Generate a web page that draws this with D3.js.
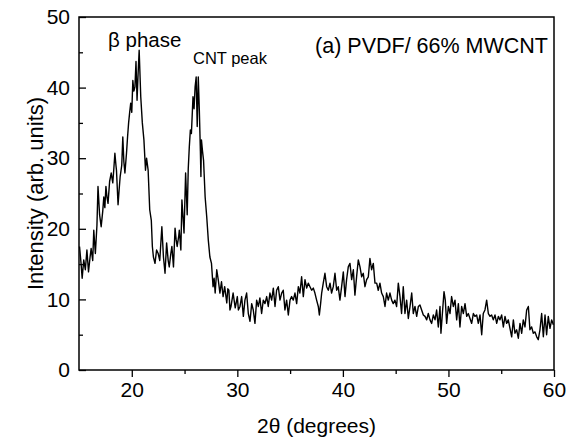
<!DOCTYPE html>
<html>
<head>
<meta charset="utf-8">
<script src="https://cdn.jsdelivr.net/npm/d3@7"></script>
<style>
  body { margin: 0; background: #fff; }
  svg { display: block; }
  text { font-family: "Liberation Sans", Arial, sans-serif; fill: #000; }
</style>
</head>
<body>
<div class="chart"></div>
<script>
// XRD pattern (2theta in degrees, intensity in arb. units)
var twoTheta = [15.05, 15.2, 15.3, 15.45, 15.6, 15.75, 15.9, 16.05, 16.15, 16.3, 16.4, 16.55, 16.7, 16.8, 16.95, 17.1,
  17.25, 17.35, 17.45, 17.55, 17.65, 17.75, 17.9, 18.05, 18.2, 18.3, 18.4, 18.5, 18.55, 18.7, 18.8, 18.9, 19.05, 19.15,
  19.25, 19.35, 19.5, 19.6, 19.7, 19.8, 19.9, 20.0, 20.1, 20.2, 20.3, 20.4, 20.5, 20.6, 20.7, 20.85, 21.0, 21.15, 21.3,
  21.4, 21.55, 21.7, 21.85, 21.95, 22.05, 22.2, 22.35, 22.5, 22.65, 22.85, 23.0, 23.15, 23.3, 23.45, 23.55, 23.7, 23.8,
  23.95, 24.1, 24.2, 24.3, 24.45, 24.5, 24.65, 24.75, 24.95, 25.1, 25.25, 25.35, 25.45, 25.55, 25.65, 25.8, 25.9, 26.0,
  26.1, 26.2, 26.3, 26.4, 26.5, 26.55, 26.6, 26.7, 26.8, 26.95, 27.1, 27.25, 27.4, 27.55, 27.7, 27.8, 27.9, 28.05, 28.2,
  28.35, 28.5, 28.65, 28.8, 29.0, 29.1, 29.2, 29.3, 29.4, 29.6, 29.8, 30.0, 30.1,
  30.25, 30.41, 30.57, 30.72, 30.88, 31.04, 31.2, 31.36, 31.51, 31.67, 31.83, 31.99, 32.14, 32.3, 32.46, 32.62, 32.78,
  32.93, 33.09, 33.25, 33.41, 33.57, 33.72, 33.88, 34.04, 34.2, 34.35, 34.51, 34.67, 34.83, 34.99, 35.14, 35.3, 35.46,
  35.62, 35.78, 35.93, 36.09, 36.25, 36.41, 36.57, 36.72, 36.88, 37.04, 37.2, 37.35, 37.51, 37.67, 37.77, 37.89, 37.99,
  38.14, 38.3, 38.46, 38.62, 38.78, 38.93, 39.09, 39.25, 39.41, 39.56, 39.72, 39.88, 40.04, 40.2, 40.35, 40.51, 40.67,
  40.83, 40.99, 41.14, 41.3, 41.46, 41.62, 41.78, 41.93, 42.09, 42.25, 42.41, 42.56, 42.72, 42.88, 43.04, 43.2, 43.35,
  43.51, 43.67, 43.83, 43.99, 44.14, 44.3, 44.46, 44.62, 44.77, 44.93, 45.09, 45.25, 45.41, 45.56, 45.72, 45.88, 46.04,
  46.2, 46.36, 46.52, 46.67, 46.83, 46.99, 47.15, 47.3, 47.46, 47.62, 47.78, 47.94, 48.09, 48.25, 48.41, 48.57, 48.73,
  48.88, 49.04, 49.2, 49.29, 49.45, 49.58, 49.7, 49.83, 49.99, 50.15, 50.3, 50.46, 50.62, 50.78, 50.94, 51.09, 51.25,
  51.41, 51.57, 51.73, 51.88, 52.04, 52.2, 52.36, 52.51, 52.67, 52.83, 52.99, 53.15, 53.3, 53.46, 53.62, 53.78, 53.94,
  54.09, 54.25, 54.41, 54.57, 54.73, 54.88, 55.04, 55.2, 55.36, 55.51, 55.67, 55.83, 55.99, 56.15, 56.3, 56.46, 56.62,
  56.78, 56.94, 57.09, 57.25, 57.41, 57.57, 57.72, 57.88, 58.04, 58.2, 58.36, 58.51, 58.67, 58.83, 58.99, 59.15, 59.3,
  59.46, 59.62, 59.78, 59.94];
var intensity = [17.5, 15.0, 13.0, 15.6, 14.2, 17.0, 13.9, 16.0, 17.2, 15.5, 19.8, 16.5, 20.5, 26.0, 22.0, 20.3,
  22.5, 24.5, 23.0, 26.0, 24.5, 23.6, 26.7, 27.9, 26.5, 28.5, 30.7, 29.0, 28.3, 23.4, 25.5, 27.4, 29.0, 33.0,
  29.5, 27.9, 30.7, 33.0, 35.0, 36.5, 37.8, 36.5, 41.0, 39.5, 40.1, 43.7, 38.2, 42.0, 45.3, 38.7, 35.0, 32.6, 28.3,
  30.0, 28.3, 22.7, 21.2, 17.5, 16.0, 15.1, 17.0, 16.5, 15.5, 20.3, 16.0, 13.7, 18.0, 15.5, 14.6, 16.5, 17.5,
  14.6, 20.1, 18.5, 17.5, 19.0, 19.8, 17.0, 24.1, 19.4, 27.9, 22.0, 28.5, 31.6, 34.0, 33.5, 38.7, 37.0, 40.1,
  41.5, 34.5, 41.5, 36.8, 31.0, 27.4, 32.6, 31.0, 29.7, 24.5, 21.7, 18.4, 16.0, 15.1, 11.8, 13.0, 10.9, 14.2, 12.7,
  10.9, 12.5, 10.4, 11.8, 9.5, 11.5, 11.3, 8.5, 9.0, 10.9, 8.8, 10.4, 8.5,
  9.0, 10.4, 7.6, 9.9, 10.9, 8.0, 6.9, 9.4, 8.5, 6.6, 9.9, 9.0, 10.2, 8.0, 9.9, 9.4, 10.4,
  9.0, 10.9, 9.9, 11.6, 9.0, 11.3, 11.8, 9.9, 10.9, 11.3, 8.5, 9.9, 7.8, 9.9, 10.4, 9.9, 10.9,
  9.4, 11.8, 10.9, 13.2, 10.4, 12.8, 11.6, 12.3, 11.8, 11.3, 11.6, 10.9, 9.9, 9.0, 7.8, 9.4, 10.9,
  12.3, 13.7, 11.8, 11.3, 12.3, 10.9, 11.8, 13.7, 11.3, 11.8, 9.9, 11.8, 13.9, 10.4, 12.8, 14.6, 15.1,
  12.8, 14.2, 10.6, 13.2, 15.6, 14.6, 13.2, 13.7, 11.8, 12.8, 13.2, 15.8, 14.2, 15.1, 12.3, 12.3, 11.3,
  12.3, 10.9, 10.4, 9.0, 10.9, 9.9, 10.9, 9.9, 9.4, 9.9, 9.0, 12.3, 10.4, 8.0, 11.8, 8.0, 9.9,
  7.3, 9.0, 10.9, 8.0, 9.0, 7.6, 9.0, 9.2, 8.5, 7.8, 7.6, 7.1, 8.0, 7.1, 6.6, 7.8, 7.1,
  8.5, 6.1, 9.0, 5.2, 8.5, 11.1, 9.9, 6.6, 9.0, 8.0, 10.4, 9.0, 9.9, 7.1, 9.4, 6.1, 9.0,
  8.0, 9.4, 7.6, 8.0, 7.3, 6.6, 8.0, 7.6, 7.8, 6.6, 7.8, 5.0, 8.0, 8.5, 9.9, 8.0, 7.6,
  7.8, 7.1, 7.8, 6.6, 7.6, 7.1, 7.8, 6.1, 7.6, 6.6, 7.1, 5.9, 4.7, 7.1, 5.2, 5.7, 4.5,
  6.6, 5.2, 7.1, 6.1, 8.5, 9.0, 5.7, 6.1, 5.2, 5.4, 4.7, 4.3, 5.7, 8.0, 4.7, 7.8, 5.0,
  7.6, 5.9, 7.1, 6.4];

var xMajor = [20, 30, 40, 50, 60];
var xMinor = [25, 35, 45, 55];
var yMajor = [0, 10, 20, 30, 40, 50];
var yMinor = [5, 15, 25, 35, 45];

var width = 568;
var height = 445;
var margin = {top: 17, right: 14, bottom: 75, left: 79};

var svg = d3.select(".chart").append("svg")
    .attr("width", width)
    .attr("height", height)

var x = d3.scaleLinear().domain([15, 60]).range([margin.left, width - margin.right]);
var y = d3.scaleLinear().domain([0, 50]).range([height - margin.bottom, margin.top]);

var data = twoTheta.map(function(d, i) { return [d, intensity[i]]; });

// the trace
svg.append("path")
    .datum(data)
    .attr("fill", "none")
    .attr("stroke", "#000")
    .attr("stroke-width", 1.4)
    .attr("stroke-linejoin", "round")
    .attr("d", d3.line().x(function(d) { return x(d[0]); }).y(function(d) { return y(d[1]); }));

// frame
svg.append("rect")
    .attr("x", x(15))
    .attr("y", y(50))
    .attr("width", x(60) - x(15))
    .attr("height", y(0) - y(50))
    .attr("fill", "none")
    .attr("stroke", "#000")
    .attr("stroke-width", 1.5);

// x axis, ticks pointing out
var gx = svg.append("g").attr("transform", "translate(0," + y(0) + ")");
gx.call(d3.axisBottom(x).tickValues(xMajor).tickSize(7).tickPadding(5).tickFormat(d3.format("d")));
svg.append("g").attr("transform", "translate(0," + y(0) + ")")
    .call(d3.axisBottom(x).tickValues(xMinor).tickSize(4).tickFormat(""));

// y axis, ticks pointing in
var gy = svg.append("g").attr("transform", "translate(" + x(15) + ",0)");
gy.call(d3.axisLeft(y).tickValues(yMajor).tickSize(-7).tickPadding(9).tickFormat(d3.format("d")));
svg.append("g").attr("transform", "translate(" + x(15) + ",0)")
    .call(d3.axisLeft(y).tickValues(yMinor).tickSize(-4).tickFormat(""));

svg.selectAll(".domain").remove();
svg.selectAll(".tick line").attr("stroke", "#000").attr("stroke-width", 1.3);
svg.selectAll(".tick text").style("font-size", "21px").style("font-family", "Liberation Sans, Arial, sans-serif");

// titles
svg.append("text")
    .attr("x", (x(15) + x(60)) / 2)
    .attr("y", 433)
    .attr("text-anchor", "middle")
    .style("font-size", "21px")
    .text("2θ (degrees)");

svg.append("text")
    .attr("transform", "translate(43," + ((y(0) + y(50)) / 2) + ") rotate(-90)")
    .attr("text-anchor", "middle")
    .style("font-size", "22px")
    .text("Intensity (arb. units)");

// annotations
svg.append("text")
    .attr("x", 108)
    .attr("y", 47)
    .style("font-size", "20.5px")
    .text("β phase");

svg.append("text")
    .attr("x", 193)
    .attr("y", 64)
    .style("font-size", "16.5px")
    .text("CNT peak");

svg.append("text")
    .attr("x", 548)
    .attr("y", 53)
    .attr("text-anchor", "end")
    .style("font-size", "21.5px")
    .text("(a) PVDF/ 66% MWCNT");
</script>
</body>
</html>
